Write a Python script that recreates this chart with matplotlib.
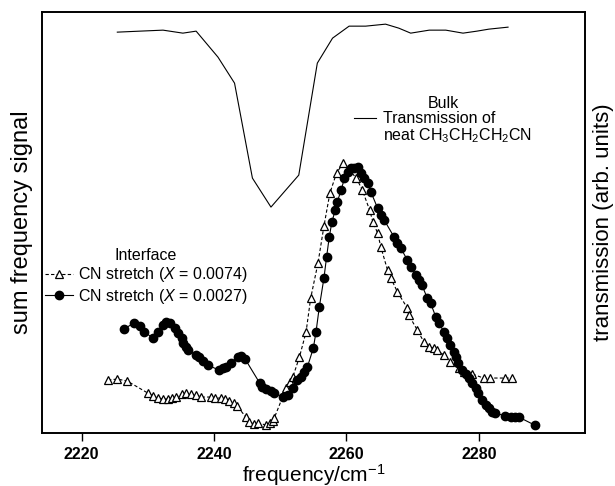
import matplotlib
matplotlib.use("Agg")
import matplotlib.pyplot as plt
from matplotlib.lines import Line2D

plt.rcParams['font.family'] = ['Liberation Sans', 'DejaVu Sans']
plt.rcParams['mathtext.fontset'] = 'custom'
plt.rcParams['mathtext.rm'] = 'Liberation Sans'
plt.rcParams['mathtext.it'] = 'Liberation Sans:italic'
plt.rcParams['mathtext.bf'] = 'Liberation Sans:bold'

### DATA (arbitrary units)
# interface, CN stretch X = 0.0074 (open triangles)
freq_a = [2224.0, 2225.4, 2226.9, 2230.0, 2230.8, 2231.5, 2232.3, 2233.0, 2233.6, 2234.3,
          2235.1, 2235.8, 2236.6, 2237.3, 2238.1, 2239.6, 2240.2, 2241.0, 2241.7, 2242.3,
          2243.0, 2243.5, 2244.8, 2245.3, 2246.1, 2246.6, 2247.9, 2248.4, 2248.9, 2249.1,
          2250.9, 2251.4, 2251.9, 2252.9, 2253.9, 2254.6, 2255.7, 2256.6, 2257.5, 2258.5,
          2259.5, 2261.5, 2262.4, 2263.5, 2264.0, 2264.7, 2265.2, 2266.2, 2266.7, 2267.7,
          2269.2, 2269.4, 2270.7, 2271.7, 2272.5, 2273.2, 2273.7, 2274.7, 2275.7, 2277.0,
          2277.7, 2279.0, 2280.7, 2281.7, 2284.0, 2285.0]
sig_a = [53, 54, 52, 40, 37, 35, 34, 34, 35, 36,
         39, 40, 39, 38, 36, 36, 35, 35, 34, 32,
         30, 27, 16, 11, 9, 10, 8, 10, 12, 15,
         45, 51, 56, 76, 101, 135, 170, 207, 240, 260,
         270, 255, 243, 223, 211, 200, 186, 163, 155, 141,
         125, 118, 103, 91, 86, 85, 83, 78, 71, 65,
         61, 59, 55, 55, 55, 55]

# interface, CN stretch X = 0.0027 (filled circles)
freq_b = [2226.4, 2227.9, 2228.8, 2229.5, 2230.8, 2231.5, 2232.3, 2232.8, 2233.4, 2234.1,
          2234.5, 2235.1, 2235.3, 2235.7, 2236.1, 2237.3, 2237.8, 2238.3, 2239.1, 2240.7,
          2241.3, 2241.8, 2242.5, 2243.6, 2244.1, 2244.7, 2246.9, 2247.3, 2247.9, 2248.6,
          2249.1, 2250.4, 2251.1, 2251.9, 2252.6, 2253.1, 2253.6, 2254.1, 2255.0, 2255.4,
          2255.9, 2256.6, 2257.0, 2257.4, 2257.8, 2258.3, 2258.6, 2259.2, 2259.7, 2260.2,
          2260.7, 2261.2, 2261.7, 2262.2, 2262.7, 2263.2, 2263.7, 2264.7, 2265.2, 2265.7,
          2267.2, 2267.7, 2268.2, 2269.2, 2269.7, 2270.5, 2270.9, 2271.4, 2272.2, 2272.7,
          2273.5, 2274.0, 2274.7, 2275.2, 2275.7, 2276.2, 2276.5, 2276.9, 2277.4, 2278.0,
          2278.5, 2279.0, 2279.5, 2279.9, 2280.5, 2281.0, 2281.5, 2282.0, 2282.5, 2284.0,
          2284.8, 2285.5, 2286.0, 2288.4]
sig_b = [104, 110, 107, 101, 95, 101, 108, 111, 110, 105,
         100, 95, 90, 86, 83, 78, 76, 72, 68, 63,
         65, 66, 70, 76, 77, 74, 50, 46, 44, 42,
         40, 36, 38, 45, 53, 56, 61, 66, 85, 101,
         126, 155, 176, 196, 211, 223, 231, 243, 255, 261,
         265, 265, 266, 260, 255, 250, 241, 225, 218, 213,
         196, 190, 185, 173, 166, 158, 153, 148, 135, 130,
         116, 110, 101, 95, 88, 81, 76, 70, 63, 59,
         55, 50, 45, 40, 33, 28, 25, 21, 20, 17,
         16, 16, 16, 8]

# bulk transmission of neat CH3CH2CH2CN
freq_t = [2225.4, 2228.8, 2232.3, 2235.3, 2237.3, 2240.6, 2243.1, 2245.8, 2248.6, 2252.8,
          2255.6, 2257.9, 2260.4, 2262.9, 2265.9, 2267.9, 2269.7, 2272.5, 2275.0, 2277.6,
          2279.7, 2281.5, 2284.4]
trans = [401, 402, 403, 400, 402, 376, 350, 255, 226, 258,
         370, 395, 407, 407, 409, 405, 400, 403, 403, 400,
         402, 404, 406]

fig = plt.figure(figsize=(6.15, 4.86), dpi=100)
ax = fig.add_axes([0.068, 0.109, 0.883, 0.866])
ax2 = ax.twinx()

la, = ax.plot(freq_a, sig_a, color='black', linestyle=(0, (3, 2)), linewidth=0.8,
              marker='^', markersize=5.8, markerfacecolor='white', markeredgecolor='black',
              markeredgewidth=0.9, label='CN stretch ($X$ = 0.0074)')
lb, = ax.plot(freq_b, sig_b, color='black', linestyle='-', linewidth=0.8,
              marker='o', markersize=6, markerfacecolor='black', markeredgecolor='black',
              label='CN stretch ($X$ = 0.0027)')
lt, = ax2.plot(freq_t, trans, color='black', linewidth=0.8)

for a in (ax, ax2):
    a.set_xlim(2214, 2296)
    a.set_ylim(0, 421)
    a.set_yticks([])
    for s in a.spines.values():
        s.set_linewidth(1.2)

ax.set_xticks([2220, 2240, 2260, 2280])
ax.tick_params(axis='x', direction='out', length=6, width=1.0, pad=4, labelsize=11.5)
for t in ax.get_xticklabels():
    t.set_fontweight('bold')

ax.set_xlabel('frequency/cm$^{-1}$', fontsize=15, labelpad=0)
ax.set_ylabel('sum frequency signal', fontsize=17, labelpad=6)
ax2.set_ylabel('transmission (arb. units)', fontsize=16, labelpad=6)

leg1 = ax.legend(handles=[la, lb], title='Interface', loc='upper left',
                 bbox_to_anchor=(0.005, 0.44), frameon=False, fontsize=11.5,
                 title_fontsize=11.5, handlelength=1.8, handletextpad=0.3,
                 labelspacing=0.15, borderpad=0, borderaxespad=0)

blank = Line2D([], [], linestyle='none')
ax2.legend(handles=[lt, blank],
           labels=['Transmission of', 'neat CH$_3$CH$_2$CH$_2$CN'],
           title='Bulk', loc='upper left', bbox_to_anchor=(0.575, 0.80),
           frameon=False, fontsize=11.5, title_fontsize=11.5, handlelength=1.4,
           handletextpad=0.4, labelspacing=0.0, borderpad=0, borderaxespad=0)

fig.savefig('out.png', dpi=100)
